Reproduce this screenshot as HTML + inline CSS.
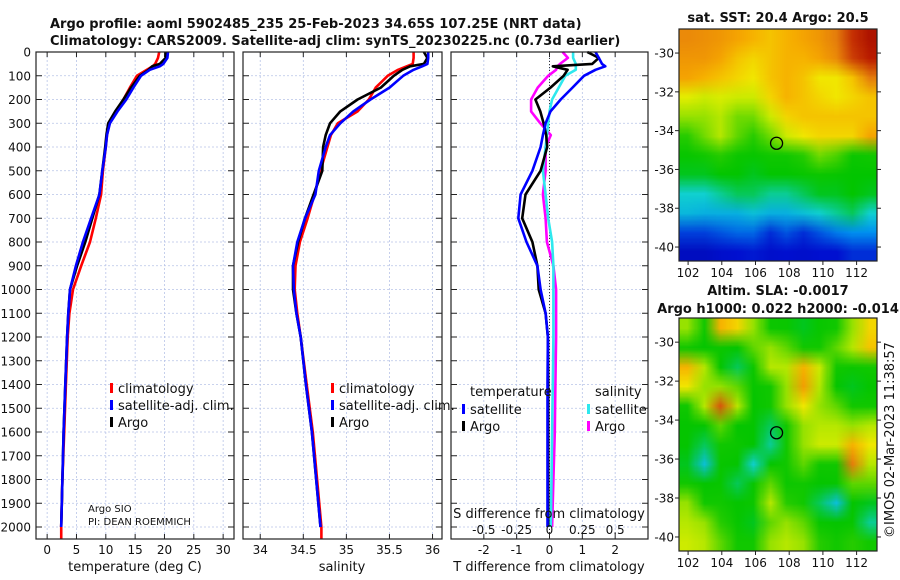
<!DOCTYPE html>
<html><head><meta charset="utf-8">
<style>
body{margin:0;background:#fff;width:900px;height:580px;overflow:hidden;position:relative;font-family:"DejaVu Sans","Liberation Sans",sans-serif;}
svg{position:absolute;left:0;top:0}
canvas{position:absolute}
</style></head>
<body>
<svg id="s" width="900" height="580"></svg>
<canvas id="m1" width="198" height="232" style="left:679px;top:29px"></canvas>
<canvas id="m2" width="198" height="233" style="left:679px;top:318px"></canvas>
<svg id="ov" width="900" height="580"></svg>
<script>
// ---- data ----
const depths=[0,25,50,60,75,100,150,200,250,300,350,400,500,600,700,800,900,1000,1100,1200,1400,1600,1800,2000];
const tClim=[19.1,18.9,18.4,18.0,17.0,15.3,14.1,13.0,11.8,10.6,10.2,10.0,9.5,9.2,8.3,7.3,5.8,4.4,3.8,3.5,3.2,2.9,2.6,2.4];
const tSat=[20.6,20.5,19.8,19.2,17.5,16.0,14.7,13.5,12.0,10.7,10.2,10.0,9.4,8.9,7.5,6.1,4.9,3.9,3.6,3.4,3.1,2.8,2.6,2.4];
const tArgo=[20.3,20.2,19.2,17.9,17.3,15.8,14.3,13.0,11.6,10.4,10.1,9.9,9.4,8.9,7.7,6.5,5.1,3.9,3.6,3.4,3.1,2.8,2.6,2.4];
const sClim=[35.78,35.78,35.77,35.7,35.6,35.48,35.34,35.26,35.13,34.9,34.82,34.78,34.7,34.63,34.55,34.46,34.41,34.4,34.43,34.47,34.54,34.61,34.66,34.71];
const sSat=[35.95,35.95,35.94,35.88,35.78,35.66,35.5,35.28,35.08,34.93,34.81,34.76,34.68,34.64,34.52,34.43,34.38,34.39,34.42,34.47,34.53,34.6,34.65,34.7];
const sArgo=[35.9,35.94,35.9,35.74,35.65,35.55,35.4,35.13,34.93,34.81,34.76,34.73,34.72,34.62,34.52,34.44,34.38,34.38,34.42,34.47,34.53,34.6,34.65,34.7];
const dtSat=[1.4,1.5,1.6,1.7,1.4,1.05,0.7,0.34,0.03,-0.12,-0.2,-0.27,-0.52,-0.88,-0.95,-0.7,-0.37,-0.27,-0.12,-0.05,-0.06,-0.06,-0.06,-0.06];
const dtArgo=[1.15,1.5,1.3,0.1,0.55,0.43,0.03,-0.43,-0.28,-0.18,-0.1,-0.07,-0.27,-0.73,-0.83,-0.52,-0.37,-0.33,-0.12,-0.05,-0.04,-0.04,-0.04,-0.04];
const dsSat=[0.18,0.18,0.2,0.2,0.2,0.12,0.07,0.02,0.0,-0.01,-0.02,-0.03,-0.05,-0.03,-0.01,0.02,0.03,0.03,0.03,0.03,0.025,0.02,0.015,0.01];
const dsArgo=[0.1,0.14,0.08,0.06,0.05,-0.01,-0.09,-0.14,-0.14,-0.07,0.01,-0.03,-0.03,-0.05,-0.03,-0.02,0.03,0.05,0.05,0.05,0.045,0.04,0.03,0.02];
const depthTicks=[0,100,200,300,400,500,600,700,800,900,1000,1100,1200,1300,1400,1500,1600,1700,1800,1900,2000];
const tTicks=[0,5,10,15,20,25,30];
const sTicks=[34,34.5,35,35.5,36];
const tdTicks=[-2,-1,0,1,2];
const sdTicks=[-0.5,-0.25,0,0.25,0.5];
const sdTickLabels=["-0.5","-0.25","0","0.25","0.5"];
const sst=[
[0.78,0.77,0.76,0.74,0.72,0.7,0.72,0.74,0.76,0.8,0.9,0.95],
[0.76,0.76,0.74,0.7,0.68,0.7,0.72,0.72,0.74,0.78,0.88,0.93],
[0.74,0.72,0.7,0.68,0.66,0.7,0.72,0.7,0.66,0.66,0.7,0.8],
[0.64,0.62,0.63,0.62,0.62,0.68,0.72,0.7,0.68,0.66,0.68,0.7],
[0.58,0.58,0.6,0.56,0.56,0.62,0.68,0.7,0.7,0.7,0.7,0.7],
[0.52,0.56,0.6,0.55,0.52,0.56,0.62,0.66,0.68,0.68,0.68,0.74],
[0.46,0.5,0.52,0.48,0.46,0.5,0.5,0.52,0.56,0.54,0.48,0.5],
[0.42,0.42,0.44,0.44,0.42,0.44,0.44,0.46,0.48,0.46,0.44,0.44],
[0.36,0.36,0.38,0.4,0.4,0.38,0.38,0.4,0.42,0.42,0.44,0.42],
[0.33,0.32,0.32,0.32,0.34,0.32,0.32,0.34,0.36,0.38,0.4,0.36],
[0.2,0.2,0.22,0.24,0.24,0.18,0.22,0.18,0.22,0.26,0.28,0.28],
[0.12,0.12,0.14,0.15,0.16,0.14,0.15,0.14,0.15,0.15,0.18,0.18]];
const sla=[
[0.58,0.5,0.72,0.68,0.58,0.48,0.47,0.42,0.46,0.5,0.58,0.68],
[0.5,0.45,0.48,0.45,0.55,0.58,0.55,0.5,0.5,0.55,0.6,0.7],
[0.72,0.6,0.45,0.4,0.48,0.6,0.6,0.72,0.62,0.5,0.48,0.5],
[0.66,0.58,0.58,0.55,0.46,0.5,0.58,0.75,0.6,0.45,0.42,0.45],
[0.5,0.6,0.85,0.6,0.45,0.5,0.58,0.66,0.58,0.55,0.5,0.5],
[0.45,0.45,0.55,0.45,0.45,0.4,0.5,0.58,0.6,0.6,0.58,0.6],
[0.45,0.4,0.5,0.48,0.44,0.38,0.5,0.58,0.62,0.62,0.72,0.66],
[0.42,0.34,0.46,0.45,0.36,0.45,0.5,0.55,0.5,0.5,0.8,0.6],
[0.5,0.45,0.46,0.4,0.46,0.55,0.48,0.5,0.45,0.46,0.55,0.55],
[0.58,0.5,0.5,0.45,0.48,0.6,0.52,0.5,0.4,0.34,0.45,0.42],
[0.6,0.58,0.52,0.46,0.42,0.55,0.58,0.55,0.46,0.45,0.46,0.38],
[0.62,0.6,0.55,0.5,0.5,0.58,0.6,0.58,0.52,0.5,0.52,0.5]];
const lonTicks=[102,104,106,108,110,112];
const latTicks=[-30,-32,-34,-36,-38,-40];
const argoPos=[107.25,-34.65];

// ---- helpers ----
const NS="http://www.w3.org/2000/svg";
const S=document.getElementById('s');
function mk(tag,at,parent){const e=document.createElementNS(NS,tag);for(const k in at)e.setAttribute(k,at[k]);(parent||S).appendChild(e);return e;}
function txt(x,y,s,size,anchor,weight,parent){const e=mk('text',{x:x,y:y,'font-size':size,'text-anchor':anchor||'start','font-weight':weight||'normal',fill:'#111'},parent);e.textContent=s;return e;}
const yD=d=>52+d*0.2375;
const panels=[
 {x0:36,x1:234,v0:-1.9,v1:31.85,ticks:tTicks,name:'temperature-panel'},
 {x0:243,x1:442,v0:33.8,v1:36.11,ticks:sTicks,name:'salinity-panel'},
 {x0:451,x1:648,v0:-3.0,v1:3.0,ticks:tdTicks,name:'difference-panel'}];
panels.forEach(p=>{p.sx=v=>p.x0+(v-p.v0)/(p.v1-p.v0)*(p.x1-p.x0);});
const B=539;
panels.forEach((p,i)=>{
  const g=mk('g',{});
  
  
  depthTicks.forEach(d=>{const y=yD(d);mk('line',{x1:p.x0,x2:p.x1,y1:y,y2:y,stroke:'#b8c4e8','stroke-width':0.8,'stroke-dasharray':'2,2'},g);
    mk('line',{x1:p.x0,x2:p.x0+6,y1:y,y2:y,stroke:'#222'},g);mk('line',{x1:p.x1-6,x2:p.x1,y1:y,y2:y,stroke:'#222'},g);});
  p.ticks.forEach(v=>{const x=p.sx(v);mk('line',{x1:x,x2:x,y1:52,y2:B,stroke:'#b8c4e8','stroke-width':0.8,'stroke-dasharray':'2,2'},g);
    mk('line',{x1:x,x2:x,y1:B-5,y2:B,stroke:'#222'},g);mk('line',{x1:x,x2:x,y1:52,y2:57,stroke:'#222'},g);
    const t=txt(x,554,String(v),12,'middle','normal',g);});
});
depthTicks.forEach(d=>{const t=txt(31,yD(d)+4.5,String(d),12,'end');});
mk('line',{x1:panels[2].sx(0),x2:panels[2].sx(0),y1:52,y2:B,stroke:'#333','stroke-width':1,'stroke-dasharray':'1,2'});
function line(p,vals,color,name,scale,last){
  let pts=[];const n=last||depths.length;
  for(let i=0;i<n;i++)pts.push(p.sx(vals[i]*(scale||1)).toFixed(1)+','+yD(depths[i]).toFixed(1));
  const e=mk('polyline',{points:pts.join(' '),fill:'none',stroke:color,'stroke-width':2.6,'stroke-linejoin':'round'});
  return e;}
const P1=panels[0],P2=panels[1],P3=panels[2];
line(P1,tClim,'#f00','temp-climatology-line');
mk('line',{x1:P1.sx(2.4),x2:P1.sx(2.4),y1:yD(2000),y2:B,stroke:'#f00','stroke-width':2.6});
line(P1,tArgo,'#000','temp-argo-line');
line(P1,tSat,'#00f','temp-satellite-line');
line(P2,sClim,'#f00','sal-climatology-line');
mk('line',{x1:P2.sx(34.71),x2:P2.sx(34.71),y1:yD(2000),y2:B,stroke:'#f00','stroke-width':2.6});
line(P2,sArgo,'#000','sal-argo-line');
line(P2,sSat,'#00f','sal-satellite-line');
line(P3,dsArgo,'#f0f','sdiff-argo-line',4);
line(P3,dsSat,'#2ee8ee','sdiff-satellite-line',4);
line(P3,dtArgo,'#000','tdiff-argo-line');
line(P3,dtSat,'#00f','tdiff-satellite-line');
panels.forEach(p=>{mk('rect',{x:p.x0,y:52,width:p.x1-p.x0,height:B-52,fill:'none',stroke:'#222','stroke-width':1.2});});
sdTicks.forEach((v,i)=>{const t=txt(P3.sx(v*4),534,sdTickLabels[i],12,'middle');});
let e;
e=txt(50,28,'Argo profile: aoml 5902485_235 25-Feb-2023 34.65S 107.25E (NRT data)',13,'start','bold');
e=txt(50,45,'Climatology: CARS2009. Satellite-adj clim: synTS_20230225.nc (0.73d earlier)',13,'start','bold');
e=txt(135,571,'temperature (deg C)',13,'middle');
e=txt(342,571,'salinity',13,'middle');
e=txt(549,571,'T difference from climatology',13,'middle');
e=txt(549,518,'S difference from climatology',13,'middle');
e=txt(88,512,'Argo SIO',10,'start');
e=txt(88,525,'PI: DEAN ROEMMICH',10,'start');
function leg(x,y,color,label,name){mk('rect',{x:x,y:y-9,width:3,height:10,fill:color});const t=txt(x+8,y+1,label,13,'start');}
leg(110,392,'#f00','climatology','legend-climatology');
leg(110,409,'#00f','satellite-adj. clim.','legend-satellite-adj');
leg(110,426,'#000','Argo','legend-argo');
leg(331,392,'#f00','climatology','legend-climatology-2');
leg(331,409,'#00f','satellite-adj. clim.','legend-satellite-adj-2');
leg(331,426,'#000','Argo','legend-argo-2');
e=txt(470,396,'temperature',13,'start');
e=txt(595,396,'salinity',13,'start');
leg(462,413,'#00f','satellite','legend-t-satellite');
leg(462,430,'#000','Argo','legend-t-argo');
leg(587,413,'#2ee8ee','satellite','legend-s-satellite');
leg(587,430,'#f0f','Argo','legend-s-argo');

// ---- maps ----
const stops=[[0,[0,0,127]],[0.15,[0,16,208]],[0.28,[0,144,240]],[0.36,[16,208,208]],[0.43,[0,196,0]],[0.51,[20,200,0]],[0.59,[170,230,0]],[0.65,[240,240,0]],[0.73,[248,170,0]],[0.82,[224,112,16]],[0.92,[192,32,0]],[1,[144,0,0]]];
function cmap(v){for(let i=1;i<stops.length;i++){if(v<=stops[i][0]){const a=stops[i-1],b=stops[i];const t=(v-a[0])/(b[0]-a[0]);return a[1].map((c,k)=>Math.round(c+(b[1][k]-c)*t));}}return stops[stops.length-1][1];}
function drawMap(id,grid,smooth){
  const c=document.getElementById(id),ctx=c.getContext('2d');
  const sm=document.createElement('canvas');sm.width=grid[0].length;sm.height=grid.length;
  const sc=sm.getContext('2d');const im=sc.createImageData(sm.width,sm.height);
  grid.forEach((row,r)=>row.forEach((v,k)=>{const col=cmap(v);const o=(r*sm.width+k)*4;im.data[o]=col[0];im.data[o+1]=col[1];im.data[o+2]=col[2];im.data[o+3]=255;}));
  sc.putImageData(im,0,0);
  ctx.imageSmoothingEnabled=smooth;ctx.drawImage(sm,0,0,c.width,c.height);
}
drawMap('m1',sst,true);
drawMap('m2',sla,true);
const O=document.getElementById('ov');
function otxt(x,y,s,size,anchor,weight){const e=document.createElementNS(NS,'text');e.setAttribute('x',x);e.setAttribute('y',y);e.setAttribute('font-size',size);e.setAttribute('text-anchor',anchor);e.setAttribute('font-weight',weight||'normal');e.setAttribute('fill','#111');e.textContent=s;O.appendChild(e);return e;}
function omk(tag,at){const e=document.createElementNS(NS,tag);for(const k in at)e.setAttribute(k,at[k]);O.appendChild(e);return e;}
const lonX=l=>679+(l-101.46)*16.85;
[[29,261],[318,551]].forEach(([t,b],mi)=>{
  const latY=la=>t+(-28.76-la)*(b-t)/11.96;
  omk('rect',{x:679,y:t,width:198,height:b-t,fill:'none',stroke:'#222','stroke-width':1.2});
  lonTicks.forEach(l=>{const x=lonX(l);omk('line',{x1:x,x2:x,y1:b,y2:b+4,stroke:'#222'});const e=otxt(x,b+16,String(l),12,'middle');});
  latTicks.forEach(la=>{const y=latY(la);omk('line',{x1:675,x2:679,y1:y,y2:y,stroke:'#222'});omk('line',{x1:877,x2:881,y1:y,y2:y,stroke:'#222'});const e=otxt(674,y+4.5,String(la),12,'end');});
  const m=omk('ellipse',{cx:lonX(argoPos[0]),cy:latY(argoPos[1]),rx:6,ry:6,fill:'none',stroke:'#000','stroke-width':1.3});
  
});
e=otxt(778,22,'sat. SST: 20.4 Argo: 20.5',13,'middle','bold');
e=otxt(778,295,'Altim. SLA: -0.0017',13,'middle','bold');
e=otxt(778,313,'Argo h1000: 0.022 h2000: -0.014',13,'middle','bold');
e=otxt(0,0,'©IMOS 02-Mar-2023 11:38:57',13,'middle');e.setAttribute('transform','translate(894,440) rotate(-90)');
</script>
</body></html>
